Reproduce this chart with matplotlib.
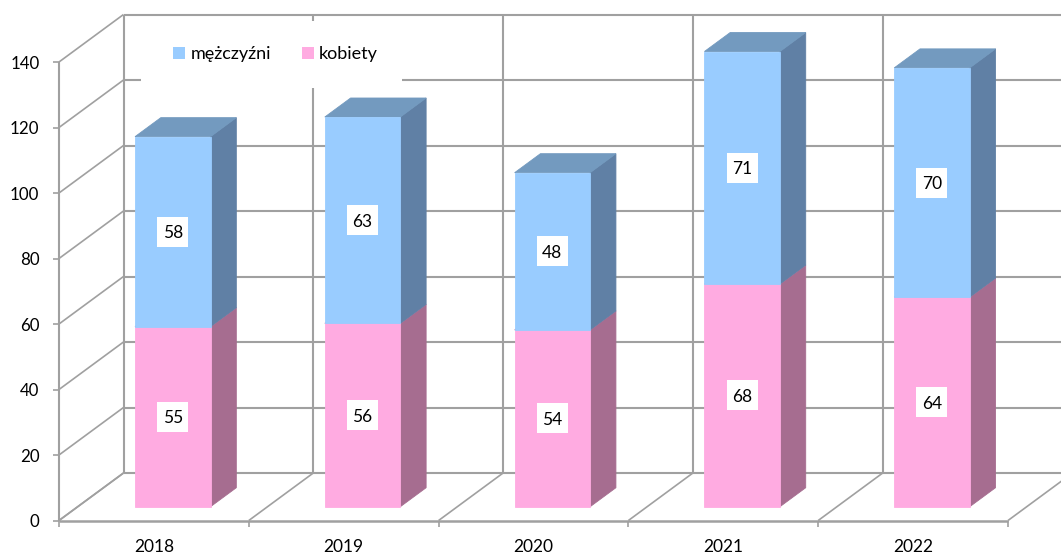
import matplotlib
matplotlib.use('Agg')
import matplotlib.pyplot as plt
from matplotlib.patches import Polygon, Patch, Rectangle

plt.rcParams['font.family'] = ['Lato', 'DejaVu Sans']

years = ['2018', '2019', '2020', '2021', '2022']
kobiety = [55, 56, 54, 68, 64]
mezczyzni = [58, 63, 48, 71, 70]
y_ticks = [0, 20, 40, 60, 80, 100, 120, 140]

W, H = 1061, 554
X0, STEP = 59, 189.8      # pixel of the y axis, pixels per category
Y0, SCALE = 520.5, 3.275  # pixel of value 0, pixels per unit
DX = 64.5 / STEP          # wall depth in data units
DY = 47.5 / SCALE
GRID = '#a0a0a0'
TXT_DROP = 1.6 / SCALE    # Lato sits a bit high with va=center

fig = plt.figure(figsize=(W / 100, H / 100), dpi=100)
ax = fig.add_axes([0, 0, 1, 1])
ax.set_xlim(-X0 / STEP, (W - X0) / STEP)
ax.set_ylim((Y0 - H) / SCALE, Y0 / SCALE)
ax.axis('off')


def pt(c, v, d=0):
    # d is the depth, 0 front of the floor, 1 back wall
    return (c + d * DX, v + d * DY)


def line(a, b, lw=1.5, z=1):
    ax.plot([a[0], b[0]], [a[1], b[1]], color=GRID, lw=lw, zorder=z,
            solid_capstyle='butt')


n = len(years)
# walls and floor
for v in y_ticks:
    line(pt(0, v, 1), pt(n + 0.5, v, 1))
    line(pt(0, v, 0), pt(0, v, 1), lw=1.2)
    line(pt(-0.03, v), pt(0, v), lw=1.2)
    ax.text(-0.103, v - TXT_DROP, str(v), ha='right', va='center', fontsize=12.2, color='black')
for c in range(n + 1):
    line(pt(c, 0, 1), pt(c, 140, 1))
    line(pt(c, 0, 0), pt(c, 0, 1), lw=1.2)
    line(pt(c, 0), pt(c, -6 / SCALE), lw=1.2)
line(pt(0, 0), pt(0, 140), lw=1.5)
line(pt(0, 0), pt(n, 0), lw=1.8)

# white box behind the legend, cuts the grid
ax.add_patch(Rectangle(((141 - X0) / STEP, (Y0 - 88) / SCALE), 261 / STEP, 67 / SCALE,
                       facecolor='white', edgecolor='none', zorder=2))

D1, D2 = 0.29, 0.69   # depth range of the bars
BW = 75.5 / STEP
LEFT = 0.302
LAB_W, LAB_H = 31 / STEP, 30 / SCALE


def box(c, v0, v1, front, top, side):
    l, r = c + LEFT, c + LEFT + BW
    ax.add_patch(Polygon([pt(r, v0, D1), pt(r, v0, D2), pt(r, v1, D2), pt(r, v1, D1)],
                         facecolor=side, edgecolor=side, lw=0.6, zorder=3))
    ax.add_patch(Polygon([pt(l, v1, D1), pt(r, v1, D1), pt(r, v1, D2), pt(l, v1, D2)],
                         facecolor=top, edgecolor=top, lw=0.6, zorder=3))
    ax.add_patch(Polygon([pt(l, v0, D1), pt(r, v0, D1), pt(r, v1, D1), pt(l, v1, D1)],
                         facecolor=front, edgecolor=front, lw=0.6, zorder=4))
    x, y = pt(c + LEFT + BW / 2, (v0 + v1) / 2, D1)
    ax.add_patch(Rectangle((x - LAB_W / 2, y - LAB_H / 2), LAB_W, LAB_H,
                           facecolor='white', edgecolor='none', zorder=4.5))
    ax.text(x, y - TXT_DROP, str(v1 - v0), ha='center', va='center', fontsize=12.5, zorder=5)


for i in range(n):
    box(i, 0, kobiety[i], '#ffabe1', '#bf80a9', '#a66d90')
    box(i, kobiety[i], kobiety[i] + mezczyzni[i], '#99ccff', '#739abf', '#6080a5')
    ax.text(i + 0.5, -26 / SCALE, years[i], ha='center', va='center',
            fontsize=12.5, color='black')

handles = [Patch(facecolor='#99ccff', label='mężczyźni'),
           Patch(facecolor='#ffabe1', label='kobiety')]
leg = ax.legend(handles=handles, ncol=2, frameon=False, fontsize=13,
                loc='center', bbox_to_anchor=(275.5 / W, 1 - 54 / H),
                handlelength=0.67, handleheight=0.67, handletextpad=0.28,
                columnspacing=1.7, borderpad=0)
leg.set_zorder(6)

fig.savefig('out.png', dpi=100)
